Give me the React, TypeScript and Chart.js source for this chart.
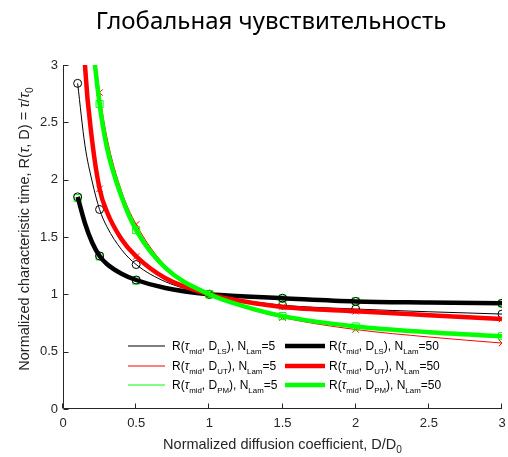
import React, { useEffect, useRef } from "react";
import { Chart, registerables } from "chart.js";

Chart.register(...registerables);

// Normalized diffusion coefficient values where the curves are evaluated
const diffusion = [0.1, 0.15, 0.2, 0.25, 0.3, 0.4, 0.5, 0.7, 1, 1.25, 1.5, 2, 2.5, 3];
// Values that carry a marker
const markedD = [0.1, 0.25, 0.5, 1, 1.5, 2, 3];

// R(tau_mid, D) for each estimator and number of lamellae
const lsLam5 = [2.84, 2.3, 1.98, 1.74, 1.59, 1.39, 1.26, 1.11, 1.0, 0.945, 0.905, 0.872, 0.848, 0.828];
const utLam5 = [6.42, 4.37, 3.36, 2.76, 2.37, 1.9, 1.61, 1.25, 1.0, 0.88, 0.797, 0.693, 0.628, 0.575];
const pmLam5 = [1.84, 1.61, 1.44, 1.33, 1.26, 1.175, 1.12, 1.05, 1.0, 0.978, 0.962, 0.94, 0.928, 0.92];
const lsLam50 = [1.85, 1.62, 1.45, 1.335, 1.265, 1.18, 1.125, 1.055, 1.0, 0.981, 0.966, 0.938, 0.929, 0.922];
const utLam50 = [4.45, 3.0, 2.33, 1.92, 1.72, 1.48, 1.33, 1.14, 1.0, 0.935, 0.89, 0.852, 0.818, 0.785];
const pmLam50 = [6.33, 4.25, 3.25, 2.66, 2.28, 1.85, 1.56, 1.23, 1.0, 0.89, 0.81, 0.72, 0.67, 0.635];

const xTicks = [0, 0.5, 1, 1.5, 2, 2.5, 3];
const yTicks = [0, 0.5, 1, 1.5, 2, 2.5, 3];

const chartTitle = "Глобальная чувствительность";

type Seg = { t: string; k?: "i" | "sub" };

const xTitle: Seg[] = [{ t: "Normalized diffusion coefficient, D/D" }, { t: "0", k: "sub" }];
const yTitle: Seg[] = [
  { t: "Normalized characteristic time, R(" },
  { t: "τ", k: "i" },
  { t: ", D) = " },
  { t: "τ", k: "i" },
  { t: "/" },
  { t: "τ", k: "i" },
  { t: "0", k: "sub" },
];

const estimators = ["LS", "UT", "PM"];
const lamellae = ["5", "50"];

const AXIS_COLOR = "#262626";
const SANS = '"Liberation Sans", Arial, sans-serif';

function legendLabel(est: string, lam: string): Seg[] {
  return [
    { t: "R(" },
    { t: "τ", k: "i" },
    { t: "mid", k: "sub" },
    { t: ", D" },
    { t: est, k: "sub" },
    { t: "), N" },
    { t: "Lam", k: "sub" },
    { t: "=" + lam },
  ];
}

function segFont(s: Seg, size: number, subRatio: number) {
  if (s.k === "sub") return `${(size * subRatio).toFixed(1)}px ${SANS}`;
  if (s.k === "i") return `italic ${size}px ${SANS}`;
  return `${size}px ${SANS}`;
}

function richWidth(ctx: CanvasRenderingContext2D, segs: Seg[], size: number, subRatio = 0.7) {
  let w = 0;
  for (const s of segs) {
    ctx.font = segFont(s, size, subRatio);
    w += ctx.measureText(s.t).width;
  }
  return w;
}

function drawRich(
  ctx: CanvasRenderingContext2D,
  segs: Seg[],
  x: number,
  y: number,
  size: number,
  subRatio = 0.7
) {
  ctx.textAlign = "left";
  ctx.textBaseline = "alphabetic";
  let cx = x;
  for (const s of segs) {
    ctx.font = segFont(s, size, subRatio);
    const dy = s.k === "sub" ? size * 0.3 : 0;
    ctx.fillText(s.t, cx, y + dy);
    cx += ctx.measureText(s.t).width;
  }
}

const colors = { LS: "#000000", UT: "#ff0000", PM: "#00ff00" } as Record<string, string>;
const markers = { LS: "circle", UT: "crossRot", PM: "rect" } as Record<string, string>;
const markerRadius = { LS: 4, UT: 4.5, PM: 5 } as Record<string, number>;

function series(est: string, lam: string, values: number[], order: number) {
  const thick = lam === "50";
  return {
    label: `${est} ${lam}`,
    data: diffusion.map((d, i) => ({ x: d, y: values[i] })),
    borderColor: colors[est],
    borderWidth: thick ? 4.5 : 1,
    pointStyle: markers[est],
    pointRadius: (c: any) => (markedD.includes(diffusion[c.dataIndex]) ? markerRadius[est] : 0),
    pointBorderColor: colors[est],
    pointBackgroundColor: "rgba(0,0,0,0)",
    pointBorderWidth: 1,
    cubicInterpolationMode: "monotone",
    fill: false,
    order,
  };
}

const decorPlugin = {
  id: "decor",
  afterDraw(chart: any) {
    const ctx: CanvasRenderingContext2D = chart.ctx;
    const { left, right, top, bottom } = chart.chartArea;
    const xs = chart.scales.x;
    const ys = chart.scales.y;
    ctx.save();

    // axis lines with inward ticks
    ctx.strokeStyle = AXIS_COLOR;
    ctx.lineWidth = 1;
    ctx.beginPath();
    const lx = Math.round(left) + 0.5;
    const by = Math.round(bottom) - 0.5;
    ctx.moveTo(lx, top);
    ctx.lineTo(lx, by);
    ctx.lineTo(right, by);
    for (const v of yTicks) {
      const py = Math.round(ys.getPixelForValue(v)) + 0.5;
      ctx.moveTo(lx, py);
      ctx.lineTo(lx + 5, py);
    }
    for (const v of xTicks) {
      const px = Math.round(xs.getPixelForValue(v)) - 0.5;
      ctx.moveTo(px, by);
      ctx.lineTo(px, by - 5);
    }
    ctx.stroke();

    // chart title
    ctx.fillStyle = "#000000";
    ctx.font = `24px "Noto Sans", "Open Sans", sans-serif`;
    ctx.textAlign = "center";
    ctx.textBaseline = "alphabetic";
    ctx.fillText(chartTitle, 271, 29);

    // axis titles
    ctx.fillStyle = AXIS_COLOR;
    const tSize = 14.5;
    const xw = richWidth(ctx, xTitle, tSize);
    drawRich(ctx, xTitle, (left + right) / 2 - xw / 2, 449, tSize);

    const yw = richWidth(ctx, yTitle, tSize);
    ctx.save();
    ctx.translate(29, 229 + yw / 2);
    ctx.rotate(-Math.PI / 2);
    drawRich(ctx, yTitle, 0, 0, tSize);
    ctx.restore();

    // legend: two columns (N=5, N=50), three rows (LS, UT, PM)
    const rowY = [346, 366, 385];
    const cols = [
      { x0: 128, x1: 165, tx: 172, w: 1 },
      { x0: 285, x1: 325, tx: 329, w: 4.5 },
    ];
    lamellae.forEach((lam, ci) => {
      const c = cols[ci];
      estimators.forEach((est, ri) => {
        const y = rowY[ri];
        ctx.strokeStyle = colors[est];
        ctx.lineWidth = c.w;
        ctx.beginPath();
        ctx.moveTo(c.x0, y);
        ctx.lineTo(c.x1, y);
        ctx.stroke();
        ctx.fillStyle = "#000000";
        drawRich(ctx, legendLabel(est, lam), c.tx, y + 4, 12, 0.66);
      });
    });

    ctx.restore();
  },
};

const tickFont = { family: SANS, size: 13 };

export default function App() {
  const ref = useRef<HTMLCanvasElement>(null);
  useEffect(() => {
    document.body.style.margin = "0";
    const canvas = ref.current!;
    const chart = new Chart(canvas, {
      type: "line",
      data: {
        datasets: [
          series("LS", "5", lsLam5, 6),
          series("UT", "5", utLam5, 5),
          series("PM", "5", pmLam5, 4),
          series("LS", "50", lsLam50, 3),
          series("UT", "50", utLam50, 2),
          series("PM", "50", pmLam50, 1),
        ] as any,
      },
      options: {
        animation: false,
        responsive: false,
        devicePixelRatio: 1,
        layout: { padding: { top: 65, right: 5, left: 0, bottom: 0 } },
        plugins: { legend: { display: false }, title: { display: false }, tooltip: { enabled: false } },
        scales: {
          x: {
            type: "linear",
            min: 0,
            max: 3,
            grid: { display: false, drawTicks: false },
            border: { display: false },
            afterBuildTicks: (s: any) => {
              s.ticks = xTicks.map((v) => ({ value: v }));
            },
            afterFit: (s: any) => {
              s.height = 48;
              s.paddingLeft = 0;
              s.paddingRight = 0;
            },
            ticks: {
              padding: 7,
              color: AXIS_COLOR,
              font: tickFont,
              maxRotation: 0,
              autoSkip: false,
              callback: (v: any) => String(v),
            },
          },
          y: {
            type: "linear",
            min: 0,
            max: 3,
            grid: { display: false, drawTicks: false },
            border: { display: false },
            afterBuildTicks: (s: any) => {
              s.ticks = yTicks.map((v) => ({ value: v }));
            },
            afterFit: (s: any) => {
              s.width = 63;
              s.paddingTop = 0;
              s.paddingBottom = 0;
            },
            ticks: {
              padding: 5,
              color: AXIS_COLOR,
              font: tickFont,
              autoSkip: false,
              callback: (v: any) => String(v),
            },
          },
        },
      },
      plugins: [decorPlugin],
    });
    return () => chart.destroy();
  }, []);
  return (
    <div style={{ width: 508, height: 457, position: "relative", background: "#ffffff" }}>
      <canvas ref={ref} width={508} height={457} />
    </div>
  );
}
